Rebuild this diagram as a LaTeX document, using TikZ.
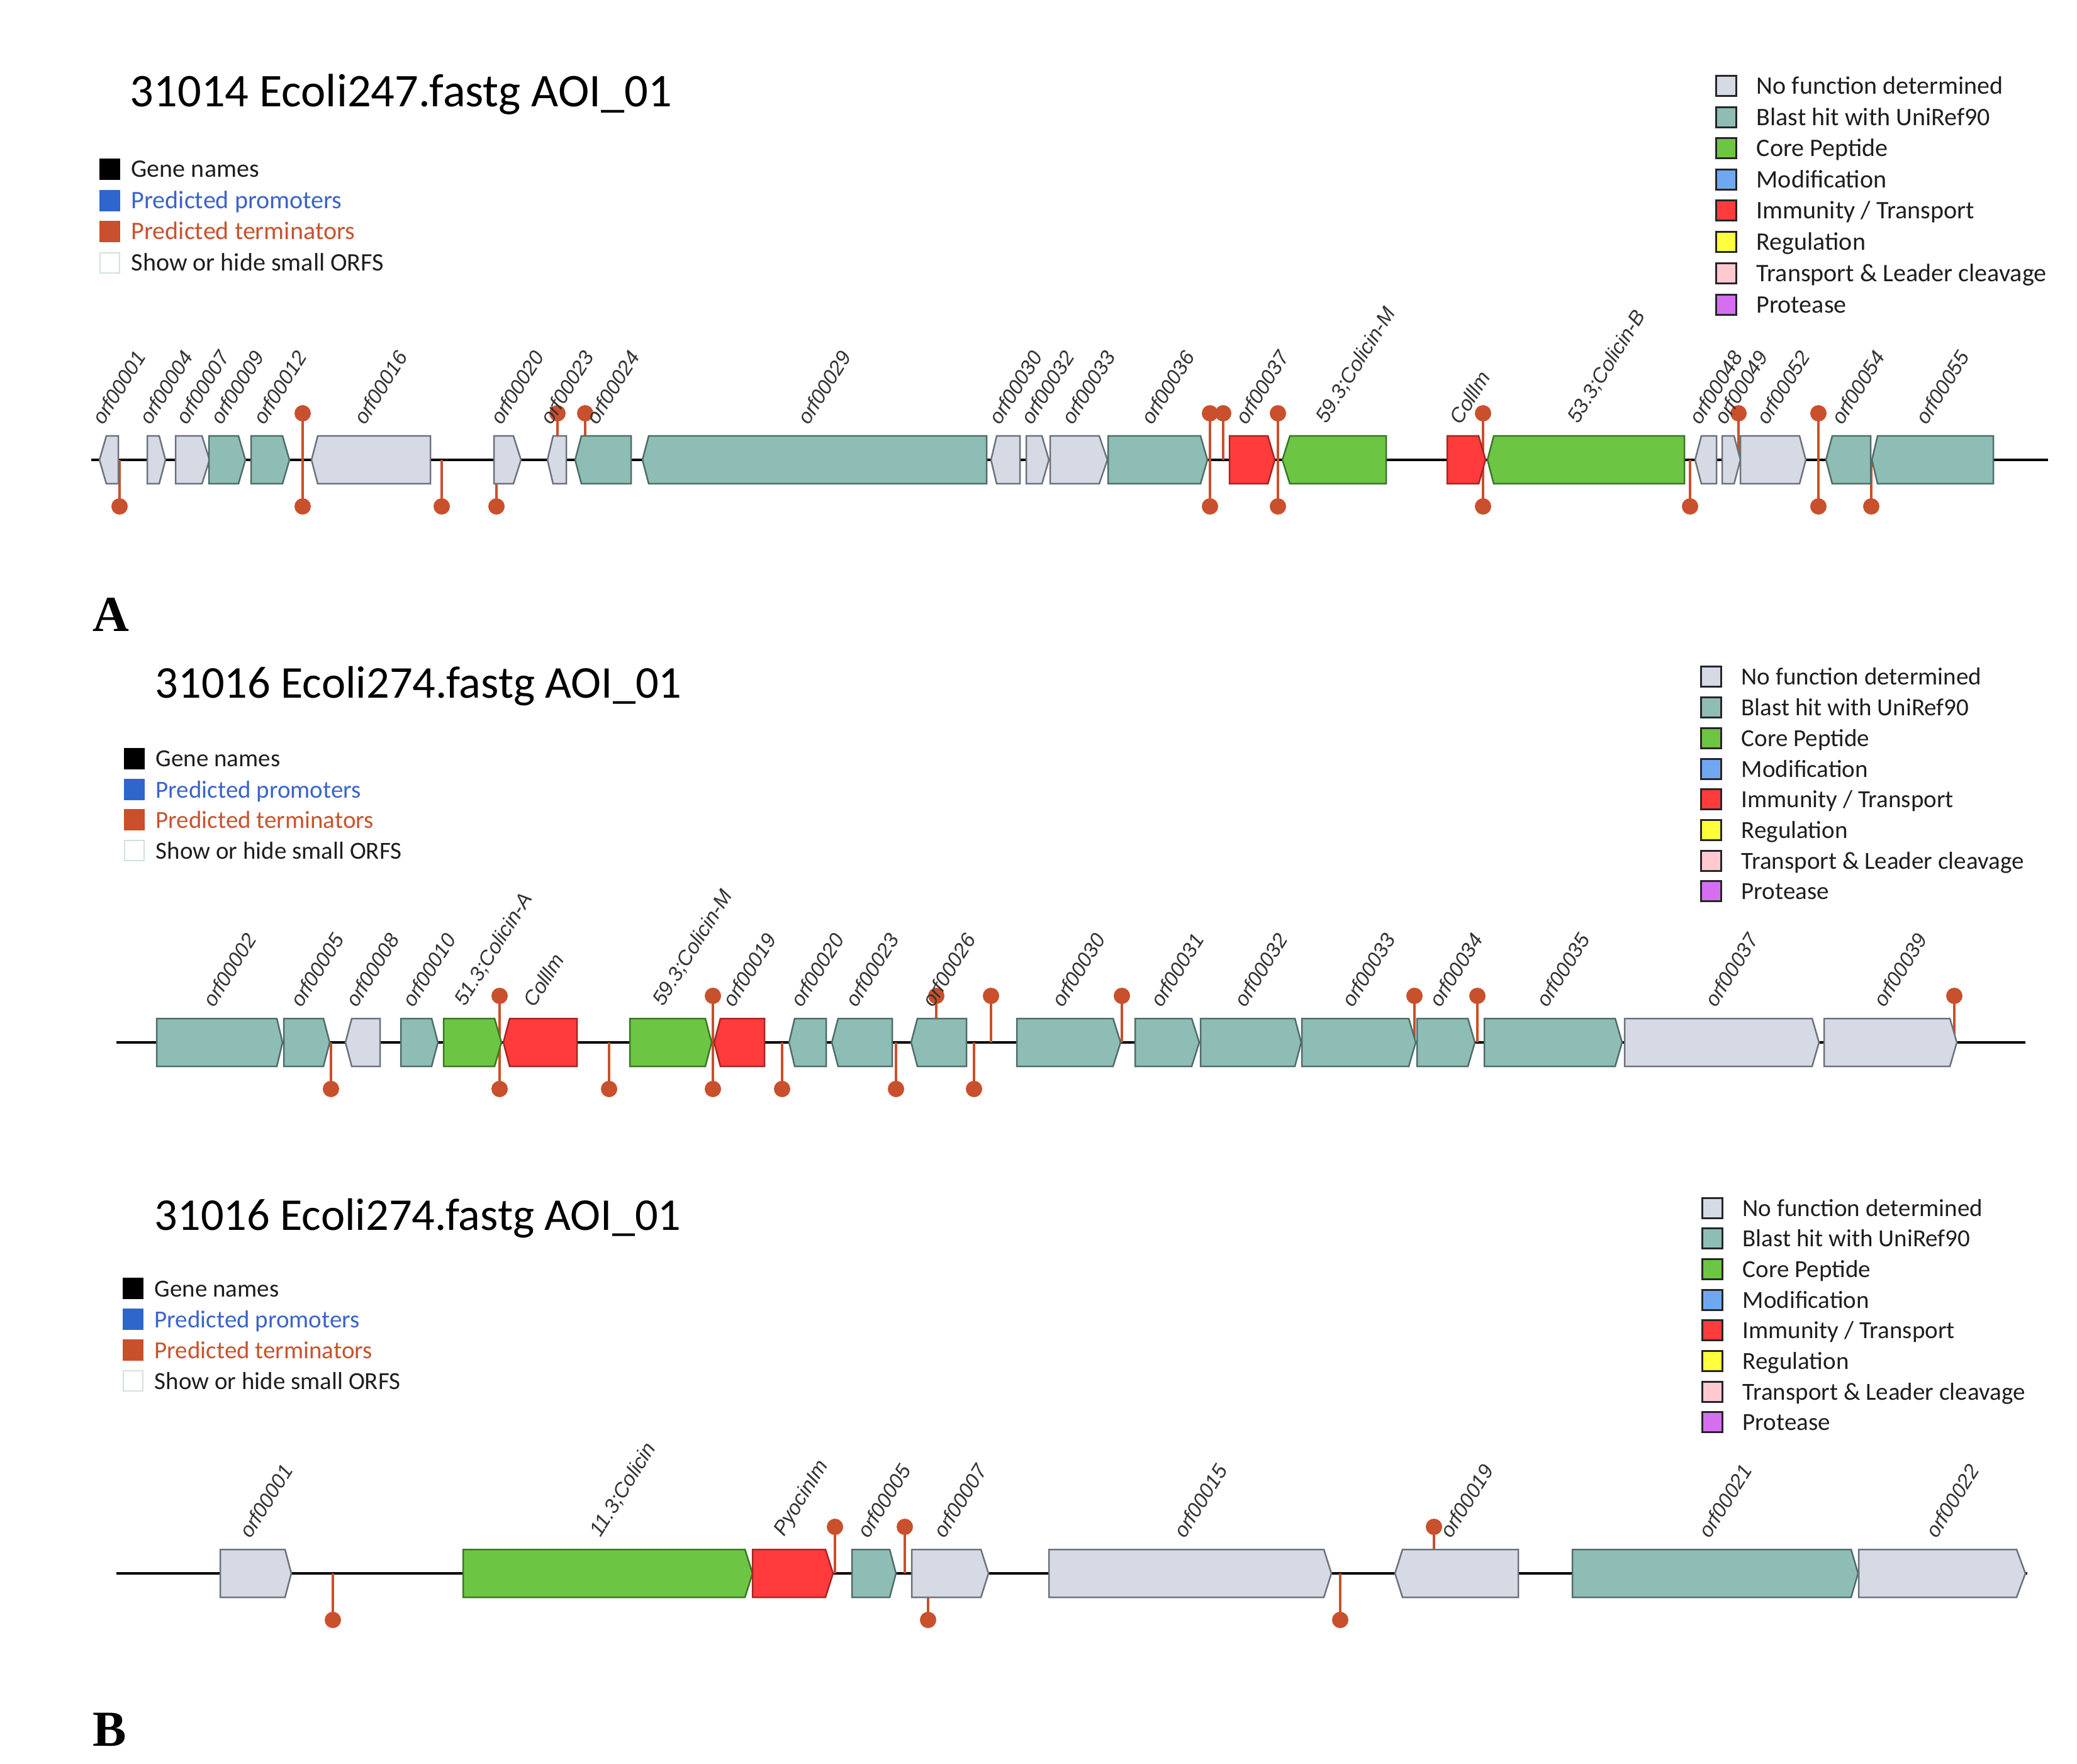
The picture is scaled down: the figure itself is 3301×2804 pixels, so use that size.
\documentclass[tikz,border=0pt]{standalone}
\usepackage{fontspec}
\setmainfont{Carlito}
\newfontfamily\labfont{Liberation Sans}
\newfontfamily\panfont{Liberation Serif}
\definecolor{cnone}{HTML}{D5DAE5}
\definecolor{cnoneD}{HTML}{6B717C}
\definecolor{cblast}{HTML}{8EBDB6}
\definecolor{cblastD}{HTML}{4F6C69}
\definecolor{ccore}{HTML}{6CC644}
\definecolor{ccoreD}{HTML}{3A7526}
\definecolor{cimm}{HTML}{FF3B3B}
\definecolor{cimmD}{HTML}{A52525}
\definecolor{cmod}{HTML}{6FA8F0}
\definecolor{creg}{HTML}{FFFF3C}
\definecolor{ctlc}{HTML}{FFC9D2}
\definecolor{cprot}{HTML}{D66EF2}
\definecolor{cterm}{HTML}{C9502C}
\definecolor{cprom}{HTML}{2F66CC}
\definecolor{cpromT}{HTML}{3B64C8}
\definecolor{ctermT}{HTML}{C8532E}
\definecolor{cshow}{HTML}{CFE3D6}
\definecolor{ctxt}{HTML}{1E1E1E}
\definecolor{clab}{HTML}{333333}
\newcount\nodeno
\newcommand{\geneR}[4]{\draw[#4] (#1,-38) -- (#2,-38) -- (#3,0) -- (#2,38) -- (#1,38) -- cycle;}
\newcommand{\geneL}[4]{\draw[#4] (#1,0) -- (#2,-38) -- (#3,-38) -- (#3,38) -- (#2,38) -- cycle;}
\newcommand{\termU}[1]{\draw[stem] (#1,0) -- (#1,-74); \fill[cterm] (#1,-74) circle (13);}
\newcommand{\termD}[1]{\draw[stem] (#1,0) -- (#1,74); \fill[cterm] (#1,74) circle (13);}
\newcommand{\gname}[2]{\global\advance\nodeno by 1\relax
  \node[glab] (g\the\nodeno) at (#1,-53) {#2};}
\newcommand{\rrow}[5]{\global\advance\nodeno by 1\relax
  \draw[legbox, fill=#3] (#1,#2-16) rectangle ++(32,32);
  \node[legtxt, #5] (r\the\nodeno) at (#1+64,#2+13) {#4};}
\newcommand{\lrow}[7]{\global\advance\nodeno by 1\relax
  \draw[line width=0.2mm, fill=#3, draw=#4] (#1,#2-16) rectangle ++(31,32);
  \node[legtxt, text=#5, #7] (l\the\nodeno) at (#1+49,#2+13) {#6};}
\tikzset{
  gnone/.style={fill=cnone, draw=cnoneD, line width=0.25mm, line join=miter},
  gblast/.style={fill=cblast, draw=cblastD, line width=0.25mm, line join=miter},
  gcore/.style={fill=ccore, draw=ccoreD, line width=0.25mm, line join=miter},
  gimm/.style={fill=cimm, draw=cimmD, line width=0.25mm, line join=miter},
  stem/.style={draw=cterm, line width=0.45mm},
  trackline/.style={draw=black, line width=0.38mm},
  glab/.style={rotate=58, anchor=south west, inner sep=0pt, text=clab,
    font=\labfont\itshape\fontsize{9.3pt}{10pt}\selectfont},
  legbox/.style={draw=black!85, line width=0.3mm},
  legtxt/.style={anchor=base west, inner sep=0pt, text=ctxt},
  bigA/.style={font=\fontsize{11.4pt}{13pt}\selectfont},
  bigB/.style={font=\fontsize{11.1pt}{13pt}\selectfont},
  ttl/.style={anchor=base west, inner sep=0pt, text=black},
  pan/.style={anchor=base west, inner sep=0pt, text=black,
    font=\panfont\bfseries\fontsize{22.8pt}{26pt}\selectfont}
}
\begin{document}
\begin{tikzpicture}[x=0.1mm, y=-0.1mm]
\useasboundingbox[fill=white] (0,0) rectangle (3301,2804);

% ================= PANEL A =================
\node[ttl, font=\fontsize{21.2pt}{25pt}\selectfont] (tA) at (206,170) {31014 Ecoli247.fastg AOI\_01};
\lrow{159}{269}{black}{black}{ctxt}{Gene names}{bigA}
\lrow{159}{319}{cprom}{cprom}{cpromT}{Predicted promoters}{bigA}
\lrow{159}{368}{cterm}{cterm}{ctermT}{Predicted terminators}{bigA}
\lrow{159}{418}{white}{cshow}{ctxt}{Show or hide small ORFS}{bigA}

\rrow{2727}{137}{cnone}{No function determined}{bigA}
\rrow{2727}{186.5}{cblast}{Blast hit with UniRef90}{bigA}
\rrow{2727}{236}{ccore}{Core Peptide}{bigA}
\rrow{2727}{285.5}{cmod}{Modification}{bigA}
\rrow{2727}{335}{cimm}{Immunity / Transport}{bigA}
\rrow{2727}{385}{creg}{Regulation}{bigA}
\rrow{2727}{435}{ctlc}{Transport \& Leader cleavage}{bigA}
\rrow{2727}{485}{cprot}{Protease}{bigA}

\begin{scope}[shift={(0,731)}]
\draw[trackline] (145,0) -- (3255,0);
\termU{481}\termU{886}\termU{930}\termU{1923}\termU{1944}\termU{2031}\termU{2357}\termU{2763}\termU{2890}
\termD{190}\termD{481}\termD{702}\termD{789}\termD{1923}\termD{2031}\termD{2357}\termD{2686}\termD{2890}\termD{2974}
\geneL{158}{169}{188}{gnone}
\geneR{234}{253}{263}{gnone}
\geneR{279}{321}{333}{gnone}
\geneR{332}{379}{390}{gblast}
\geneR{399}{449}{460}{gblast}
\geneL{495}{505}{684}{gnone}
\geneR{785}{816}{828}{gnone}
\geneL{870}{879}{900}{gnone}
\geneL{914}{924}{1003}{gblast}
\geneL{1021}{1031}{1568}{gblast}
\geneL{1575}{1584}{1621}{gnone}
\geneR{1631}{1656}{1667}{gnone}
\geneR{1669}{1747}{1760}{gnone}
\geneR{1761}{1908}{1919}{gblast}
\geneR{1954}{2015}{2026}{gimm}
\geneL{2038}{2050}{2203}{gcore}
\geneR{2300}{2350}{2361}{gimm}
\geneL{2364}{2374}{2677}{gcore}
\geneL{2694}{2704}{2728}{gnone}
\geneR{2737}{2756}{2766}{gnone}
\geneR{2766}{2860}{2870}{gnone}
\geneL{2902}{2912}{2973}{gblast}
\geneL{2975}{2984}{3168}{gblast}
\gname{165}{orf00001}\gname{240}{orf00004}\gname{298}{orf00007}\gname{353}{orf00009}
\gname{421}{orf00012}\gname{581}{orf00016}\gname{798}{orf00020}\gname{877}{orf00023}
\gname{950}{orf00024}\gname{1286}{orf00029}\gname{1590}{orf00030}\gname{1641}{orf00032}
\gname{1706}{orf00033}\gname{1832}{orf00036}\gname{1982}{orf00037}\gname{2112}{59.3;Colicin-M}
\gname{2322}{Colllm}\gname{2512}{53.3;Colicin-B}\gname{2703}{orf00048}\gname{2743}{orf00049}
\gname{2810}{orf00052}\gname{2929}{orf00054}\gname{3063}{orf00055}
\end{scope}
\node[pan] (pA) at (147,1004) {A};

% ================= PANEL B (upper) =================
\node[ttl, font=\fontsize{20.6pt}{25pt}\selectfont] (tB) at (246,1110) {31016 Ecoli274.fastg AOI\_01};
\lrow{198}{1206}{black}{black}{ctxt}{Gene names}{bigB}
\lrow{198}{1255}{cprom}{cprom}{cpromT}{Predicted promoters}{bigB}
\lrow{198}{1303}{cterm}{cterm}{ctermT}{Predicted terminators}{bigB}
\lrow{198}{1352}{white}{cshow}{ctxt}{Show or hide small ORFS}{bigB}

\rrow{2703}{1076}{cnone}{No function determined}{bigB}
\rrow{2703}{1124.7}{cblast}{Blast hit with UniRef90}{bigB}
\rrow{2703}{1173.4}{ccore}{Core Peptide}{bigB}
\rrow{2703}{1222.1}{cmod}{Modification}{bigB}
\rrow{2703}{1270.8}{cimm}{Immunity / Transport}{bigB}
\rrow{2703}{1319.5}{creg}{Regulation}{bigB}
\rrow{2703}{1368.2}{ctlc}{Transport \& Leader cleavage}{bigB}
\rrow{2703}{1416.9}{cprot}{Protease}{bigB}

\begin{scope}[shift={(0,1657)}]
\draw[trackline] (185,0) -- (3219,0);
\termU{794}\termU{1133}\termU{1488}\termU{1575}\termU{1783}\termU{2248}\termU{2348}\termU{3106}
\termD{526}\termD{794}\termD{968}\termD{1133}\termD{1243}\termD{1424}\termD{1548}
\geneR{249}{440}{449}{gblast}
\geneR{451}{514}{524}{gblast}
\geneL{549}{559}{604}{gnone}
\geneR{637}{686}{696}{gblast}
\geneR{705}{786}{797}{gcore}
\geneL{800}{810}{917}{gimm}
\geneR{1001}{1121}{1131}{gcore}
\geneL{1135}{1145}{1215}{gimm}
\geneL{1254}{1263}{1313}{gblast}
\geneL{1322}{1332}{1418}{gblast}
\geneL{1448}{1458}{1536}{gblast}
\geneR{1616}{1769}{1781}{gblast}
\geneR{1804}{1894}{1906}{gblast}
\geneR{1908}{2058}{2068}{gblast}
\geneR{2069}{2239}{2250}{gblast}
\geneR{2252}{2333}{2344}{gblast}
\geneR{2359}{2567}{2578}{gblast}
\geneR{2582}{2880}{2891}{gnone}
\geneR{2899}{3099}{3110}{gnone}
\gname{341}{orf00002}\gname{480}{orf00005}\gname{568}{orf00008}\gname{658}{orf00010}
\gname{743}{51.3;Colicin-A}\gname{850}{Colllm}\gname{1058}{59.3;Colicin-M}\gname{1167}{orf00019}
\gname{1275}{orf00020}\gname{1362}{orf00023}\gname{1484}{orf00026}\gname{1690}{orf00030}
\gname{1847}{orf00031}\gname{1980}{orf00032}\gname{2151}{orf00033}\gname{2290}{orf00034}
\gname{2460}{orf00035}\gname{2728}{orf00037}\gname{2996}{orf00039}
\end{scope}

% ================= PANEL B (lower) =================
\node[ttl, font=\fontsize{20.6pt}{25pt}\selectfont] (tC) at (245,1955) {31016 Ecoli274.fastg AOI\_01};
\lrow{196}{2048}{black}{black}{ctxt}{Gene names}{bigB}
\lrow{196}{2097}{cprom}{cprom}{cpromT}{Predicted promoters}{bigB}
\lrow{196}{2146}{cterm}{cterm}{ctermT}{Predicted terminators}{bigB}
\lrow{196}{2195}{white}{cshow}{ctxt}{Show or hide small ORFS}{bigB}

\rrow{2705}{1920}{cnone}{No function determined}{bigB}
\rrow{2705}{1968.7}{cblast}{Blast hit with UniRef90}{bigB}
\rrow{2705}{2017.4}{ccore}{Core Peptide}{bigB}
\rrow{2705}{2066.1}{cmod}{Modification}{bigB}
\rrow{2705}{2114.8}{cimm}{Immunity / Transport}{bigB}
\rrow{2705}{2163.5}{creg}{Regulation}{bigB}
\rrow{2705}{2212.2}{ctlc}{Transport \& Leader cleavage}{bigB}
\rrow{2705}{2260.9}{cprot}{Protease}{bigB}

\begin{scope}[shift={(0,2501)}]
\draw[trackline] (185,0) -- (3222,0);
\termU{1327}\termU{1438}\termU{2279}
\termD{529}\termD{1475}\termD{2130}
\geneR{350}{453}{463}{gnone}
\geneR{736}{1184}{1196}{gcore}
\geneR{1196}{1312}{1324}{gimm}
\geneR{1354}{1414}{1424}{gblast}
\geneR{1449}{1559}{1571}{gnone}
\geneR{1667}{2104}{2116}{gnone}
\geneL{2217}{2229}{2413}{gnone}
\geneR{2499}{2942}{2953}{gblast}
\geneR{2954}{3205}{3219}{gnone}
\gname{399}{orf00001}\gname{958}{11.3;Colicin}\gname{1252}{PyocinIm}\gname{1381}{orf00005}
\gname{1502}{orf00007}\gname{1884}{orf00015}\gname{2307}{orf00019}\gname{2718}{orf00021}
\gname{3079}{orf00022}
\end{scope}
\node[pan] (pB) at (147,2775) {B};
\end{tikzpicture}
\end{document}
